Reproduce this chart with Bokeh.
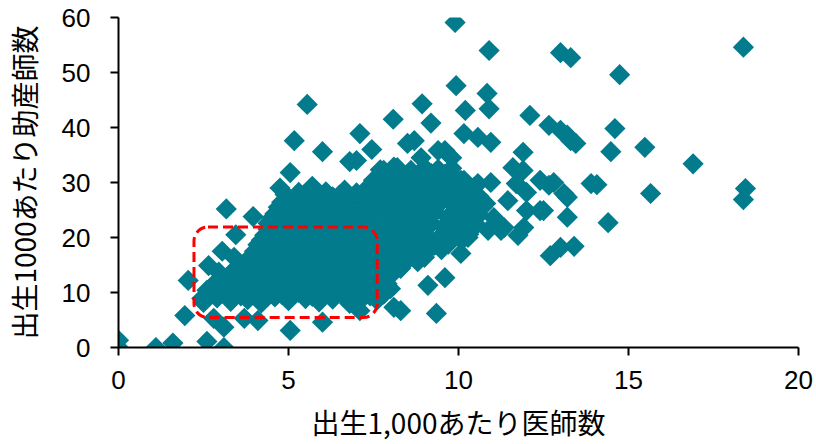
from math import pi
from bokeh.plotting import figure
from bokeh.models import BoxAnnotation, FixedTicker
from bokeh.embed import file_html
from bokeh.resources import INLINE

# ---- data: doctors per 1,000 births (x) vs midwives per 1,000 births (y) ----
# scattered / edge points
doctors_edge = [
    0.0, 0.0, 1.1, 1.6, 2.6, 3.1, 1.95, 2.8, 3.1, 3.7, 4.1, 5.05, 6.0, 7.1, 8.1, 8.3, 9.35,
    7.9, 9.1, 9.6, 2.05, 2.45, 2.65, 2.95, 3.05, 3.4, 3.45, 3.17, 3.96, 4.75, 5.05, 5.7,
    5.17, 5.55, 6.0, 6.8, 7.0, 7.1, 7.45, 8.08, 8.7, 8.93, 9.19, 9.6, 7.9, 6.65, 7.35,
    7.8, 8.2, 8.5, 8.9, 9.4, 9.8, 9.9, 10.9, 13.0, 13.3, 9.93, 10.84, 10.9, 10.2, 12.1,
    12.66, 13.0, 13.2, 13.3, 13.45, 10.16, 10.57, 10.95, 11.9, 18.38, 14.74, 14.6, 14.48,
    15.48, 16.9, 14.07, 15.65, 18.44, 18.38, 13.2, 14.4, 12.7, 13.0, 13.4, 12.5, 11.9,
    11.7, 11.45, 12.0, 12.4, 12.8, 13.1, 12.4, 12.0, 10.16, 10.57, 10.95, 10.28, 10.66,
    11.04, 11.34, 10.87, 11.92, 11.75, 10.28, 10.07, 11.6, 12.66, 13.2, 13.9, 11.25,
    10.46, 9.78, 10.07,
]
midwives_edge = [
    0.0, 1.3, 0.0, 0.8, 1.1, 0.0, 5.8, 5.3, 3.7, 5.3, 4.9, 3.1, 4.6, 6.7, 7.3, 6.7, 6.2,
    10.6, 11.3, 12.7, 12.2, 8.9, 14.9, 13.7, 17.5, 16.4, 20.5, 25.2, 23.8, 29.0, 31.8, 29.3,
    37.6, 44.2, 35.6, 33.8, 34.0, 38.9, 36.0, 41.5, 37.6, 44.3, 40.8, 35.8, 31.0, 28.6, 29.2,
    32.2, 32.7, 37.1, 34.5, 35.8, 34.5, 59.1, 54.0, 53.6, 52.7, 47.6, 46.2, 43.4, 43.1, 42.2,
    40.4, 39.5, 38.6, 37.6, 37.1, 38.9, 38.2, 37.3, 35.5, 54.6, 49.6, 39.8, 35.6,
    36.4, 33.4, 29.6, 28.0, 28.9, 26.9, 23.7, 22.7, 16.7, 18.2, 18.4, 24.9, 32.2,
    29.8, 26.7, 28.2, 30.4, 30.0, 28.0, 24.9, 24.9, 30.4, 29.8, 30.0, 24.9, 25.5,
    23.6, 21.8, 21.3, 21.8, 20.4, 20.0, 17.1, 32.7, 29.5, 27.3, 29.8, 21.3,
    29.1, 31.6, 30.4,
]
# dense core of the cloud
doctors_core = [
    2.5, 2.9, 3.3, 3.8, 4.2, 4.6, 5.0, 5.5, 5.9, 6.3, 6.8, 7.2, 7.6,
    2.7, 3.1, 3.6, 4.0, 4.4, 4.8, 5.3, 5.7, 6.1, 6.6, 7.0, 7.4, 7.8,
    2.6, 3.0, 3.4, 3.9, 4.3, 4.7, 5.1, 5.6, 6.0, 6.4, 6.9, 7.3, 7.7, 8.0,
    2.8, 3.2, 3.7, 4.1, 4.5, 4.9, 5.4, 5.8, 6.2, 6.7, 7.1, 7.5, 7.9,
    3.1, 3.5, 3.9, 4.3, 4.8, 5.2, 5.6, 6.1, 6.5, 6.9, 7.4, 7.8,
    3.3, 3.8, 4.2, 4.6, 5.0, 5.5, 5.9, 6.3, 6.8, 7.2, 7.6, 8.1,
    3.6, 4.0, 4.4, 4.9, 5.3, 5.7, 6.2, 6.6, 7.0, 7.5, 7.9, 8.3,
    3.8, 4.2, 4.6, 5.0, 5.4, 5.9, 6.3, 6.7, 7.2, 7.6, 8.0, 8.5, 8.8,
    3.9, 4.3, 4.7, 5.2, 5.6, 6.0, 6.5, 6.9, 7.3, 7.8, 8.2, 8.6, 9.0,
    4.0, 4.4, 4.8, 5.3, 5.7, 6.1, 6.6, 7.0, 7.4, 7.9, 8.3, 8.7, 9.1, 9.5,
    4.1, 4.5, 4.9, 5.4, 5.8, 6.2, 6.7, 7.1, 7.5, 8.0, 8.4, 8.8, 9.3, 9.7,
    4.2, 4.6, 5.0, 5.5, 5.9, 6.3, 6.8, 7.2, 7.6, 8.1, 8.5, 8.9, 9.4, 9.8, 10.1,
    4.3, 4.7, 5.1, 5.6, 6.0, 6.4, 6.9, 7.3, 7.7, 8.2, 8.6, 9.0, 9.5, 9.9, 10.3,
    4.4, 4.8, 5.2, 5.7, 6.1, 6.5, 7.0, 7.4, 7.8, 8.3, 8.7, 9.1, 9.6, 10.0, 10.4,
    4.4, 4.8, 5.3, 5.7, 6.1, 6.6, 7.0, 7.4, 7.9, 8.3, 8.7, 9.2, 9.6, 10.0, 10.5,
    4.5, 4.9, 5.3, 5.8, 6.2, 6.6, 7.1, 7.5, 7.9, 8.4, 8.8, 9.2, 9.7, 10.1, 10.5,
    4.6, 5.0, 5.4, 5.9, 6.3, 6.7, 7.2, 7.6, 8.0, 8.5, 8.9, 9.3, 9.8, 10.2, 10.6,
    4.7, 5.1, 5.5, 6.0, 6.4, 6.8, 7.3, 7.7, 8.1, 8.6, 9.0, 9.4, 9.9, 10.3, 10.7,
    4.8, 5.2, 5.6, 6.0, 6.5, 6.9, 7.3, 7.8, 8.2, 8.6, 9.1, 9.5, 9.9, 10.4, 10.8,
    5.0, 5.4, 5.9, 6.3, 6.7, 7.2, 7.6, 8.0, 8.4, 8.9, 9.3, 9.7, 10.2, 10.6,
    4.9, 5.3, 5.7, 6.1, 6.5, 7.0, 7.4, 7.8, 8.2, 8.7, 9.1, 9.5, 10.0, 10.4,
    7.6, 8.0, 8.5, 8.9, 9.3, 9.8,
    7.5, 8.0, 8.4, 8.8, 9.3, 9.7,
    7.9, 8.3, 8.8, 9.2, 9.6,
    7.7, 8.1, 8.6, 9.0, 9.4, 9.8,
]
midwives_core = [
    8.2, 9.0, 8.4, 8.7, 8.1, 9.2, 8.5, 8.9, 8.3, 8.8, 8.0, 9.1, 8.6,
    9.6, 9.9, 9.4, 9.8, 9.5, 9.7, 10.0, 9.3, 9.8, 9.6, 9.9, 9.4, 9.7,
    10.4, 10.9, 10.2, 10.7, 11.0, 10.3, 10.8, 10.1, 10.6, 11.1, 10.4, 10.9, 10.2, 10.7,
    11.5, 11.8, 11.4, 11.9, 11.6, 11.3, 11.7, 12.0, 11.5, 11.8, 11.4, 11.7, 11.6,
    12.3, 12.8, 12.1, 12.6, 13.0, 12.4, 12.9, 12.2, 12.7, 12.3, 12.8, 12.5,
    13.5, 13.8, 13.4, 13.7, 13.9, 13.3, 13.6, 13.8, 13.5, 13.9, 13.4, 13.7,
    14.2, 14.8, 14.4, 14.9, 14.1, 14.6, 14.3, 14.9, 14.5, 14.2, 14.7, 14.4,
    15.5, 15.8, 15.4, 15.7, 15.9, 15.3, 15.6, 15.8, 15.4, 15.7, 15.5, 15.9, 15.6,
    16.6, 16.2, 16.9, 16.4, 16.7, 16.1, 16.8, 16.3, 16.6, 16.9, 16.2, 16.7, 16.4,
    17.5, 17.8, 17.4, 17.7, 17.9, 17.3, 17.6, 17.8, 17.4, 17.7, 17.5, 17.9, 17.6, 17.8,
    18.7, 18.3, 18.8, 18.2, 18.6, 18.9, 18.4, 18.7, 18.1, 18.5, 18.9, 18.3, 18.6, 18.8,
    19.5, 19.8, 19.4, 19.7, 19.9, 19.3, 19.6, 19.8, 19.4, 19.7, 19.5, 19.9, 19.6, 19.8, 19.5,
    20.4, 20.8, 20.2, 20.7, 20.3, 20.9, 20.5, 20.1, 20.6, 20.8, 20.3, 20.7, 20.4, 20.9, 20.6,
    21.5, 21.8, 21.4, 21.7, 21.9, 21.3, 21.6, 21.8, 21.4, 21.7, 21.5, 21.9, 21.6, 21.8, 21.5,
    22.6, 22.2, 22.8, 22.4, 22.9, 22.3, 22.7, 22.5, 22.1, 22.8, 22.4, 22.6, 22.2, 22.9, 22.5,
    23.5, 23.8, 23.4, 23.7, 23.9, 23.3, 23.6, 23.8, 23.4, 23.7, 23.5, 23.9, 23.6, 23.8, 23.5,
    24.3, 24.8, 24.4, 24.7, 24.2, 24.9, 24.5, 24.1, 24.6, 24.8, 24.3, 24.7, 24.4, 24.9, 24.2,
    25.5, 25.8, 25.4, 25.7, 25.9, 25.3, 25.6, 25.8, 25.4, 25.7, 25.5, 25.9, 25.6, 25.8, 25.5,
    26.4, 26.8, 26.2, 26.7, 26.3, 26.9, 26.5, 26.1, 26.6, 26.8, 26.3, 26.7, 26.4, 26.9, 26.2,
    27.2, 27.5, 27.1, 27.4, 27.0, 27.3, 27.6, 27.2, 27.5, 27.1, 27.4, 27.6, 27.3, 27.5,
    27.8, 28.2, 27.9, 28.3, 27.7, 28.1, 28.4, 28.6, 28.2, 28.7, 28.4, 28.8, 28.3, 28.1,
    29.4, 29.7, 29.3, 29.6, 29.8, 29.5,
    30.4, 30.8, 30.2, 30.7, 30.3, 30.9,
    31.4, 31.7, 31.3, 31.6, 31.5,
    32.3, 32.8, 32.2, 32.7, 32.4, 32.6,
]

x_ticks = [0, 5, 10, 15, 20]
y_ticks = [0, 10, 20, 30, 40, 50, 60]
x_title = "出生1,000あたり医師数"
y_title = "出生1000あたり助産師数"

# highlighted region (dashed rounded box)
box_left, box_right, box_bottom, box_top = 2.22, 7.61, 5.45, 21.9

TEAL = "#027B8D"

p = figure(
    width=816, height=444,
    x_range=(0, 20), y_range=(0, 60),
    output_backend="svg", toolbar_location=None,
    min_border_left=117, min_border_right=18, min_border_top=17, min_border_bottom=97,
)
p.outline_line_color = None
p.grid.visible = False
p.background_fill_color = "white"
p.border_fill_color = "white"

p.scatter(x=doctors_edge + doctors_core, y=midwives_edge + midwives_core,
          marker="square", size=15, angle=pi / 4,
          fill_color=TEAL, line_color=None)

box = BoxAnnotation(left=box_left, right=box_right, bottom=box_bottom, top=box_top,
                    fill_alpha=0, fill_color=None, line_color="#FF0000", line_alpha=1.0,
                    line_width=3, line_dash="10 5", border_radius=14)
p.add_layout(box)

p.xaxis.ticker = FixedTicker(ticks=x_ticks)
p.yaxis.ticker = FixedTicker(ticks=y_ticks)
for ax in (p.xaxis, p.yaxis):
    ax.minor_tick_line_color = None
    ax.major_tick_out = 8
    ax.major_tick_in = 0
    ax.axis_line_width = 2
    ax.major_tick_line_width = 2
    ax.axis_line_color = "black"
    ax.major_tick_line_color = "black"
    ax.major_label_text_font = "Liberation Sans"
    ax.major_label_text_font_size = "26px"
    ax.major_label_text_color = "black"
    ax.axis_label_text_font = "Noto Sans CJK JP"
    ax.axis_label_text_font_size = "28px"
    ax.axis_label_text_font_style = "normal"
    ax.axis_label_text_color = "black"

p.xaxis.axis_label = x_title
p.yaxis.axis_label = y_title
p.xaxis.major_label_standoff = 15
p.yaxis.major_label_standoff = 20
p.xaxis.axis_label_standoff = 10
p.yaxis.axis_label_standoff = 15

open("out.html", "w").write(file_html(p, INLINE, title="scatter"))
